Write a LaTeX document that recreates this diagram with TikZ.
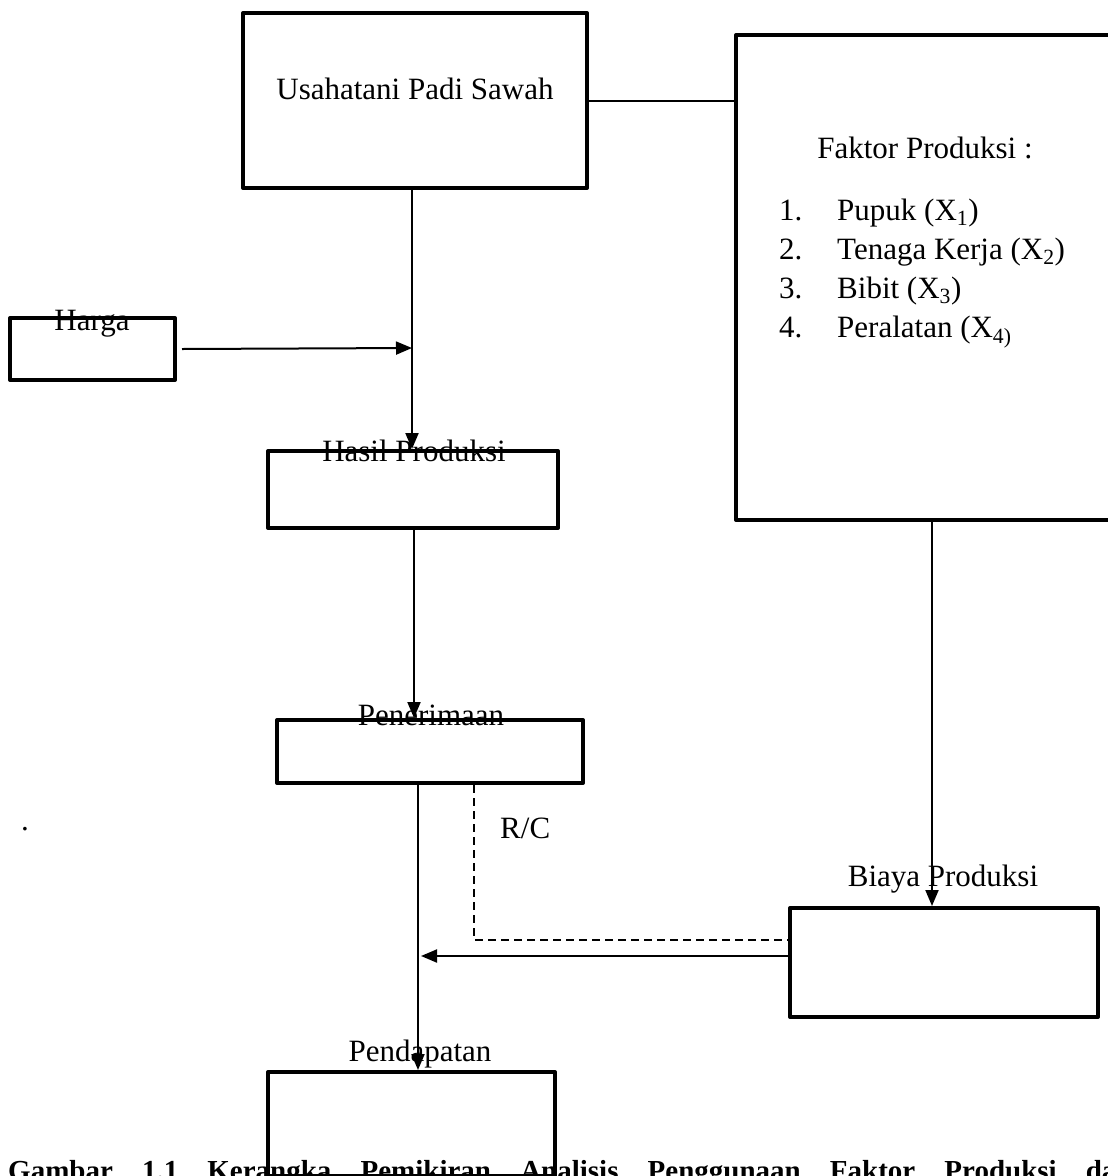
\documentclass[tikz,border=0pt]{standalone}
\usepackage{fontspec}
\setmainfont{Liberation Serif}
\usetikzlibrary{arrows.meta}
\begin{document}
\begin{tikzpicture}[x=1pt,y=-1pt,
  box/.style={draw, line width=4pt, rectangle, inner sep=0pt, line join=round},
  lbl/.style={inner sep=0pt, anchor=base, font=\fontsize{31}{36}\selectfont},
  conn/.style={line width=2pt},
  arr/.style={line width=2pt, -{Triangle[length=16pt,width=13pt]}},
  dsh/.style={line width=1.6pt, dash pattern=on 8pt off 5pt}]
\useasboundingbox (0,0) rectangle (1108,1176);
% boxes
\node[box, minimum width=344pt, minimum height=175pt] (usaha) at (415,100.5) {};
\node[box, minimum width=379pt, minimum height=485pt] (faktor) at (925.5,277.5) {};
\node[box, minimum width=165pt, minimum height=62pt] (harga) at (92.5,349) {};
\node[box, minimum width=290pt, minimum height=77pt] (hasil) at (413,489.5) {};
\node[box, minimum width=306pt, minimum height=63pt] (pener) at (430,751.5) {};
\node[box, minimum width=308pt, minimum height=109pt] (biaya) at (944,962.5) {};
\node[box, minimum width=287pt, minimum height=104pt] (pend) at (411.5,1124) {};
% coordinates
\coordinate (j1) at (412,348);
\coordinate (xa) at (414,0);
\coordinate (xb) at (418,0);
\coordinate (xc) at (932,0);
\coordinate (xd) at (474,0);
\coordinate (ya) at (0,956);
\coordinate (yb) at (0,940);
\coordinate (tipb) at (421,956);
% connectors
\draw[conn] (usaha.east) -- (usaha.east -| faktor.west);
\draw[arr] (usaha.south -| j1) -- (hasil.north -| j1);
\draw[arr] ([xshift=5pt]harga.east) -- (j1);
\draw[arr] (hasil.south -| xa) -- (pener.north -| xa);
\draw[arr] (pener.south -| xb) -- (pend.north -| xb);
\draw[arr] (faktor.south -| xc) -- (biaya.north -| xc);
\draw[arr] (biaya.west |- ya) -- (tipb);
\draw[dsh] (pener.south -| xd) |- (biaya.west |- yb);
% labels
\node[lbl] (tusaha) at (415,99) {Usahatani Padi Sawah};
\node[lbl] (tfaktor) at (925,158) {Faktor Produksi :};
\node[lbl, anchor=base west] (n1) at (779,220) {1.};
\node[lbl, anchor=base west] (i1) at (837,220) {Pupuk (X\textsubscript{1})};
\node[lbl, anchor=base west] (n2) at (779,259) {2.};
\node[lbl, anchor=base west] (i2) at (837,259) {Tenaga Kerja (X\textsubscript{2})};
\node[lbl, anchor=base west] (n3) at (779,298) {3.};
\node[lbl, anchor=base west] (i3) at (837,298) {Bibit (X\textsubscript{3})};
\node[lbl, anchor=base west] (n4) at (779,337) {4.};
\node[lbl, anchor=base west] (i4) at (837,337) {Peralatan (X\textsubscript{4)}};
\node[lbl] (tharga) at (92,330) {Harga};
\node[lbl] (thasil) at (414,461) {Hasil Produksi};
\node[lbl] (tpener) at (431,725) {Penerimaan};
\node[lbl, anchor=base west] (trc) at (500,838) {R/C};
\node[lbl] (tbiaya) at (943,886) {Biaya Produksi};
\node[lbl] (tpend) at (420,1061) {Pendapatan};
\node[lbl] (tdot) at (25,830) {.};
\node[lbl, anchor=base west, font=\fontsize{29}{34}\selectfont\bfseries] (cap) at (8,1180)
  {\makebox[1155pt][s]{Gambar 1.1 Kerangka Pemikiran Analisis Penggunaan Faktor Produksi dalam}};
\end{tikzpicture}
\end{document}
